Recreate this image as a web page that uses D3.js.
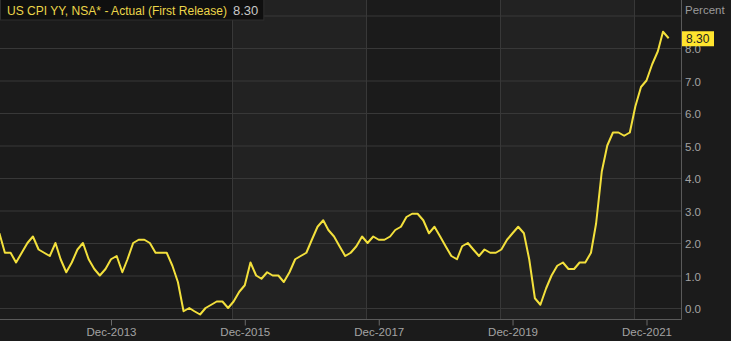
<!DOCTYPE html>
<html>
<head>
<meta charset="utf-8">
<script src="https://cdn.jsdelivr.net/npm/d3@7"></script>
<style>
  html, body { margin: 0; padding: 0; background: #1b1b1b; }
  svg { display: block; }
  text { font-family: "Liberation Sans", Arial, sans-serif; }
</style>
</head>
<body>
<div id="chart"></div>
<script>
// monthly US CPI YoY, first release, Apr-2012 .. Apr-2022
var startMonth = "2012-04";
var cpiValues = [
    2.3, 1.7, 1.7, 1.4, 1.7, 2.0, 2.2, 1.8, 1.7,
    1.6, 2.0, 1.5, 1.1, 1.4, 1.8, 2.0, 1.5, 1.2, 1.0, 1.2, 1.5,
    1.6, 1.1, 1.5, 2.0, 2.1, 2.1, 2.0, 1.7, 1.7, 1.7, 1.3, 0.8,
    -0.1, 0.0, -0.1, -0.2, 0.0, 0.1, 0.2, 0.2, 0.0, 0.2, 0.5, 0.7,
    1.4, 1.0, 0.9, 1.1, 1.0, 1.0, 0.8, 1.1, 1.5, 1.6, 1.7, 2.1,
    2.5, 2.7, 2.4, 2.2, 1.9, 1.6, 1.7, 1.9, 2.2, 2.0, 2.2, 2.1,
    2.1, 2.2, 2.4, 2.5, 2.8, 2.9, 2.9, 2.7, 2.3, 2.5, 2.2, 1.9,
    1.6, 1.5, 1.9, 2.0, 1.8, 1.6, 1.8, 1.7, 1.7, 1.8, 2.1, 2.3,
    2.5, 2.3, 1.5, 0.3, 0.1, 0.6, 1.0, 1.3, 1.4, 1.2, 1.2, 1.4,
    1.4, 1.7, 2.6, 4.2, 5.0, 5.4, 5.4, 5.3, 5.4, 6.2, 6.8, 7.0,
    7.5, 7.9, 8.5, 8.3
];
var xTickLabels = ["Dec-2013", "Dec-2015", "Dec-2017", "Dec-2019", "Dec-2021"];
var yTickValues = [0, 1, 2, 3, 4, 5, 6, 7, 8];
var yGridValues = [0, 1, 2, 3, 4, 5, 6, 7, 8, 9];
var vGridDates = ["2015-09-22", "2017-09-24", "2019-09-26", "2021-09-24"];
var titleText = "US CPI YY, NSA* - Actual (First Release)";
var lastLabel = "8.30";

var width = 731, height = 341;
var plotRight = 681, plotBottom = 319;

var parseMonth = d3.timeParse("%Y-%m");
var parseDay = d3.timeParse("%Y-%m-%d");
var parseTick = d3.timeParse("%b-%Y");
var start = parseMonth(startMonth);
var data = cpiValues.map(function (v, i) {
    return { date: d3.timeMonth.offset(start, i), value: v };
});

var x = d3.scaleTime()
    .domain([parseTick("Dec-2013"), parseTick("Dec-2021")])
    .range([111, 646.5]);
var y = d3.scaleLinear()
    .domain([0, 8])
    .range([308, 48]);

var svg = d3.select("#chart").append("svg")
    .attr("width", width)
    .attr("height", height);

svg.append("rect")
    .attr("width", width).attr("height", height)
    .attr("fill", "#1b1b1b");

// alternating background bands
var gx = vGridDates.map(function (d) { return x(parseDay(d)); });
var bandEdges = [0].concat(gx).concat([plotRight]);
for (var i = 0; i < bandEdges.length - 1; i++) {
    svg.append("rect")
        .attr("x", bandEdges[i])
        .attr("y", 0)
        .attr("width", bandEdges[i + 1] - bandEdges[i])
        .attr("height", plotBottom)
        .attr("fill", i % 2 == 1 ? "#222222" : "#1b1b1b");
}

// grid
svg.selectAll(".hgrid").data(yGridValues).enter()
    .append("line")
    .attr("class", "hgrid")
    .attr("x1", 0).attr("x2", plotRight)
    .attr("y1", d => y(d) + 0.5).attr("y2", d => y(d) + 0.5)
    .attr("stroke", "#383838").attr("stroke-width", 1);

svg.selectAll(".vgrid").data(gx).enter()
    .append("line")
    .attr("class", "vgrid")
    .attr("x1", d => Math.round(d) + 0.5).attr("x2", d => Math.round(d) + 0.5)
    .attr("y1", 0).attr("y2", plotBottom)
    .attr("stroke", "#383838").attr("stroke-width", 1);

// axes
var xAxis = d3.axisBottom(x)
    .tickValues(xTickLabels.map(parseTick))
    .tickFormat(d3.timeFormat("%b-%Y"))
    .tickSize(6)
    .tickSizeOuter(0);

var xAxisG = svg.append("g")
    .attr("transform", `translate(0, ${plotBottom + 0.5})`)
    .call(xAxis);
xAxisG.select(".domain").remove();
xAxisG.selectAll("line").attr("stroke", "#6a6a6a");
xAxisG.selectAll("text")
    .attr("fill", "#a3a3a3")
    .attr("font-size", 11.5)
    .attr("y", 8);

svg.append("line")
    .attr("x1", 0).attr("x2", plotRight + 0.5)
    .attr("y1", plotBottom + 0.5).attr("y2", plotBottom + 0.5)
    .attr("stroke", "#5a5a5a");
svg.append("line")
    .attr("x1", plotRight + 0.5).attr("x2", plotRight + 0.5)
    .attr("y1", 0).attr("y2", plotBottom + 0.5)
    .attr("stroke", "#5a5a5a");

var yAxisG = svg.append("g")
    .attr("transform", `translate(${plotRight}, 0)`)
    .call(d3.axisRight(y).tickValues(yTickValues).tickFormat(d3.format(".1f")).tickSize(0));
yAxisG.select(".domain").remove();
yAxisG.selectAll("text")
    .attr("x", 4)
    .attr("fill", "#a3a3a3")
    .attr("font-size", 11.5)
    .attr("dy", "0.4em");

svg.append("text")
    .attr("x", plotRight + 4).attr("y", 10)
    .attr("dy", "0.35em")
    .attr("fill", "#9a9a9a")
    .attr("font-size", 11.5)
    .text("Percent");

// line
var line = d3.line()
    .x(d => x(d.date))
    .y(d => y(d.value))
    .curve(d3.curveLinear);

svg.append("clipPath").attr("id", "plotClip")
    .append("rect").attr("x", 0).attr("y", 0).attr("width", plotRight).attr("height", plotBottom);

svg.append("path")
    .datum(data)
    .attr("clip-path", "url(#plotClip)")
    .attr("fill", "none")
    .attr("stroke", "#f3e03c")
    .attr("stroke-width", 2)
    .attr("stroke-linejoin", "round")
    .attr("d", line);

// last value badge
var last = data[data.length - 1];
var badge = svg.append("g").attr("transform", `translate(${plotRight + 1}, ${y(last.value) + 0.5})`);
badge.append("rect")
    .attr("x", 0).attr("y", -7.5)
    .attr("width", 32).attr("height", 15)
    .attr("fill", "#ffe42e");
badge.append("text")
    .attr("x", 4).attr("y", 0)
    .attr("dy", "0.36em")
    .attr("fill", "#222")
    .attr("font-size", 12)
    .text(lastLabel);

// title box
var title = svg.append("g");
var titleBg = title.append("rect")
    .attr("x", 0.5).attr("y", -1)
    .attr("height", 21)
    .attr("fill", "#0f0f0f")
    .attr("stroke", "#2e2e2e");
var t1 = title.append("text")
    .attr("x", 7).attr("y", 10)
    .attr("dy", "0.36em")
    .attr("fill", "#ecd64a")
    .attr("font-size", 12.5)
    .attr("textLength", 220)
    .attr("lengthAdjust", "spacingAndGlyphs")
    .text(titleText);
var t2 = title.append("text")
    .attr("x", 233).attr("y", 10)
    .attr("dy", "0.36em")
    .attr("fill", "#c8c8c8")
    .attr("font-size", 13)
    .text(lastLabel);
titleBg.attr("width", 233 + t2.node().getComputedTextLength() + 5);
</script>
</body>
</html>
